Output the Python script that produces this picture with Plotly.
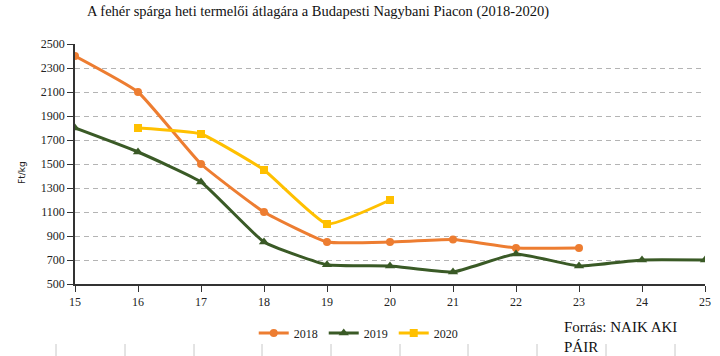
import plotly.graph_objects as go

weeks_2018 = [15, 16, 17, 18, 19, 20, 21, 22, 23]
vals_2018 = [2400, 2100, 1500, 1100, 850, 850, 870, 800, 800]
weeks_2019 = [15, 16, 17, 18, 19, 20, 21, 22, 23, 24, 25]
vals_2019 = [1800, 1600, 1350, 850, 660, 650, 600, 750, 650, 700, 700]
weeks_2020 = [16, 17, 18, 19, 20]
vals_2020 = [1800, 1750, 1450, 1000, 1200]
y_ticks = [500, 700, 900, 1100, 1300, 1500, 1700, 1900, 2100, 2300, 2500]
x_ticks = list(range(15, 26))

SERIF = "Liberation Serif"
W, H = 720, 356
L, R, T, B = 75, 15, 44, 72
PW, PH = W - L - R, H - T - B


def px_x(x):
    return (x - L) / PW


def px_y(y):
    return (H - B - y) / PH


fig = go.Figure()
fig.add_trace(go.Scatter(x=weeks_2018, y=vals_2018, name="2018", mode="lines+markers",
                         line=dict(color="#ED7D31", width=3, shape="spline", smoothing=0.4),
                         marker=dict(symbol="circle", size=8, color="#ED7D31")))
fig.add_trace(go.Scatter(x=weeks_2019, y=vals_2019, name="2019", mode="lines+markers",
                         line=dict(color="#3A5A26", width=3, shape="spline", smoothing=0.4),
                         marker=dict(symbol="triangle-up", size=9, color="#3A5A26")))
fig.add_trace(go.Scatter(x=weeks_2020, y=vals_2020, name="2020", mode="lines+markers",
                         line=dict(color="#FFC000", width=3, shape="spline", smoothing=0.4),
                         marker=dict(symbol="square", size=8, color="#FFC000")))

fig.update_layout(
    template="none",
    width=W, height=H,
    margin=dict(l=L, r=R, t=T, b=B, autoexpand=False),
    paper_bgcolor="white", plot_bgcolor="white",
    font=dict(family=SERIF, size=12, color="#222222"),
    title=dict(text="A fehér spárga heti termelői átlagára a Budapesti Nagybani Piacon (2018-2020)",
               x=318 / W, xanchor="center", y=1 - 11 / H, yanchor="middle",
               font=dict(family=SERIF, size=14.5, color="#111111")),
    xaxis=dict(range=[15, 25], tickvals=x_ticks, showgrid=False, showline=True,
               linecolor="#333333", linewidth=1.5, ticks="outside", ticklen=6, tickwidth=1.2,
               tickcolor="#333333", zeroline=False, fixedrange=True, automargin=False,
               tickfont=dict(family=SERIF, size=12)),
    yaxis=dict(range=[500, 2500], tickvals=y_ticks, showgrid=True, gridcolor="#b4b4b4",
               griddash="5px,4px", gridwidth=1, showline=True, linecolor="#333333", linewidth=1.5,
               ticks="outside", ticklen=6, tickwidth=1.2, tickcolor="#333333", zeroline=False,
               automargin=False, fixedrange=True, tickfont=dict(family=SERIF, size=12)),
    legend=dict(orientation="h", x=0.2837, xanchor="left", y=px_y(333), yanchor="middle",
                font=dict(family=SERIF, size=12), entrywidth=25, entrywidthmode="pixels",
                tracegroupgap=0, bgcolor="rgba(0,0,0,0)"),
    showlegend=True,
)

fig.add_annotation(text="Ft/kg", xref="paper", yref="paper", x=px_x(22), y=px_y(172),
                   xanchor="center", yanchor="middle", textangle=-90, showarrow=False,
                   font=dict(family="DejaVu Sans", size=9, color="#222222"))

fig.add_annotation(text="Forrás: NAIK AKI<br>PÁIR", xref="paper", yref="paper",
                   x=px_x(562), y=px_y(337), xanchor="left", yanchor="middle",
                   align="left", showarrow=False,
                   font=dict(family=SERIF, size=15, color="#111111"))

# faint column separators below the chart (page decoration)
sep_x = [56, 125, 194, 262, 331, 400, 468, 537, 606, 675]
for sx in sep_x:
    fig.add_shape(type="line", xref="paper", yref="paper", x0=px_x(sx), x1=px_x(sx),
                  y0=px_y(344), y1=px_y(357), line=dict(color="#c8c8c8", width=1), layer="below")

fig.write_html("out.html", config={"displayModeBar": False},
               post_script="document.body.style.margin='0';")
